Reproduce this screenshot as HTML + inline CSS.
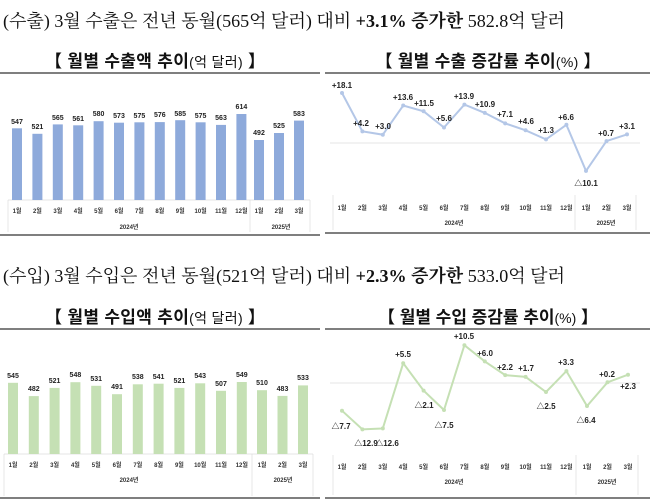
<!DOCTYPE html>
<html><head><meta charset="utf-8"><style>
html,body{margin:0;padding:0;background:#fff;width:650px;height:501px;overflow:hidden}
svg{display:block;font-family:"Liberation Sans","Noto Sans CJK KR",sans-serif}
.t{font-family:"Liberation Serif","Noto Serif CJK SC","Noto Sans CJK KR",serif;font-size:18px;fill:#111}
.st{font-size:17px;font-weight:bold;fill:#111}
.v{font-size:7px;font-weight:bold;fill:#222;text-anchor:middle}
.m{font-size:6px;font-weight:bold;fill:#333;text-anchor:middle}
.p{font-size:8px;font-weight:bold;fill:#222;text-anchor:middle}
</style></head><body>
<svg width="650" height="501" viewBox="0 0 650 501">
<rect width="650" height="501" fill="#fff"/>
<text class="t" x="3" y="27" textLength="562" lengthAdjust="spacingAndGlyphs">(수출) 3월 수출은 전년 동월(565억 달러) 대비 <tspan font-weight="bold">+3.1% 증가한</tspan> 582.8억 달러</text>
<text class="t" x="3" y="282" textLength="562" lengthAdjust="spacingAndGlyphs">(수입) 3월 수입은 전년 동월(521억 달러) 대비 <tspan font-weight="bold">+2.3% 증가한</tspan> 533.0억 달러</text>

<text class="st" x="155" y="67" text-anchor="middle" textLength="220">【 월별 수출액 추이<tspan font-size="14" font-weight="normal">(억 달러)</tspan> 】</text>
<text class="st" x="488" y="67" text-anchor="middle" textLength="225">【 월별 수출  증감률 추이<tspan font-size="14" font-weight="normal">(%)</tspan> 】</text>
<text class="st" x="155" y="323" text-anchor="middle" textLength="220">【 월별 수입액 추이<tspan font-size="14" font-weight="normal">(억 달러)</tspan> 】</text>
<text class="st" x="488" y="323" text-anchor="middle" textLength="220">【 월별 수입 증감률 추이<tspan font-size="14" font-weight="normal">(%)</tspan> 】</text>

<g stroke="#555" stroke-width="1.5">
<line x1="0" y1="73" x2="320" y2="73"/><line x1="325" y1="73" x2="650" y2="73"/>
<line x1="0" y1="235" x2="320" y2="235"/><line x1="325" y1="233" x2="650" y2="233"/>
<line x1="0" y1="329" x2="320" y2="329"/><line x1="325" y1="329" x2="650" y2="329"/>
<line x1="0" y1="498" x2="320" y2="498"/><line x1="325" y1="498" x2="650" y2="498"/>
</g>

<g stroke="#ddd" stroke-width="0.7" fill="none">
<path d="M8 200 V232 M250 200 V232 M310 200 V232 M8 200 H310"/>
<path d="M333 195 V230 M575 195 V230 M636 195 V230"/>
<path d="M4 454 V496 M252 454 V496 M313 454 V496 M4 454 H313"/>
<path d="M333 455 V495 M576 455 V495 M638 455 V495"/>
</g>

<g fill="#8eaadb">
<rect x="12" y="128.3" width="10" height="71.7"/><rect x="32.4" y="133.8" width="10" height="66.2"/>
<rect x="52.8" y="124.4" width="10" height="75.6"/><rect x="73.2" y="125.3" width="10" height="74.7"/>
<rect x="93.6" y="121.2" width="10" height="78.8"/><rect x="114" y="122.7" width="10" height="77.3"/>
<rect x="134.4" y="122.3" width="10" height="77.7"/><rect x="154.8" y="122.1" width="10" height="77.9"/>
<rect x="175.2" y="120.2" width="10" height="79.8"/><rect x="195.6" y="122.3" width="10" height="77.7"/>
<rect x="216" y="124.9" width="10" height="75.1"/><rect x="236.4" y="114" width="10" height="86"/>
<rect x="254" y="140" width="10" height="60"/><rect x="274" y="133" width="10" height="67"/>
<rect x="294" y="120.6" width="10" height="79.4"/>
</g>
<g class="v">
<text x="17" y="124">547</text><text x="37.4" y="129">521</text><text x="57.8" y="120">565</text><text x="78.2" y="121">561</text>
<text x="98.6" y="116">580</text><text x="119" y="118">573</text><text x="139.4" y="118">575</text><text x="159.8" y="117">576</text>
<text x="180.2" y="116">585</text><text x="200.6" y="118">575</text><text x="221" y="120">563</text><text x="241.4" y="109">614</text>
<text x="259" y="135">492</text><text x="279" y="128">525</text><text x="299" y="116">583</text>
</g>
<g class="m">
<text x="17" y="213">1월</text><text x="37.4" y="213">2월</text><text x="57.8" y="213">3월</text><text x="78.2" y="213">4월</text>
<text x="98.6" y="213">5월</text><text x="119" y="213">6월</text><text x="139.4" y="213">7월</text><text x="159.8" y="213">8월</text>
<text x="180.2" y="213">9월</text><text x="200.6" y="213">10월</text><text x="221" y="213">11월</text><text x="241.4" y="213">12월</text>
<text x="259" y="213">1월</text><text x="279" y="213">2월</text><text x="299" y="213">3월</text>
<text x="129" y="229">2024년</text><text x="281" y="229">2025년</text>
</g>

<g fill="#c5e0b4">
<rect x="8" y="382.8" width="10" height="71.2"/><rect x="28.8" y="396.1" width="10" height="57.9"/>
<rect x="49.6" y="387.9" width="10" height="66.1"/><rect x="70.4" y="382.2" width="10" height="71.8"/>
<rect x="91.2" y="385.8" width="10" height="68.2"/><rect x="112" y="394.2" width="10" height="59.8"/>
<rect x="132.8" y="384.3" width="10" height="69.7"/><rect x="153.6" y="383.7" width="10" height="70.3"/>
<rect x="174.4" y="387.9" width="10" height="66.1"/><rect x="195.2" y="383.3" width="10" height="70.7"/>
<rect x="216" y="390.8" width="10" height="63.2"/><rect x="236.8" y="382" width="10" height="72"/>
<rect x="257" y="390.2" width="10" height="63.8"/><rect x="277.5" y="395.9" width="10" height="58.1"/>
<rect x="298" y="385.4" width="10" height="68.6"/>
</g>
<g class="v">
<text x="13" y="378">545</text><text x="33.8" y="391">482</text><text x="54.6" y="383">521</text><text x="75.4" y="377">548</text>
<text x="96.2" y="381">531</text><text x="117" y="389">491</text><text x="137.8" y="379">538</text><text x="158.6" y="379">541</text>
<text x="179.4" y="383">521</text><text x="200.2" y="378">543</text><text x="221" y="386">507</text><text x="241.8" y="377">549</text>
<text x="262" y="385">510</text><text x="282.5" y="391">483</text><text x="303" y="380">533</text>
</g>
<g class="m">
<text x="13" y="467">1월</text><text x="33.8" y="467">2월</text><text x="54.6" y="467">3월</text><text x="75.4" y="467">4월</text>
<text x="96.2" y="467">5월</text><text x="117" y="467">6월</text><text x="137.8" y="467">7월</text><text x="158.6" y="467">8월</text>
<text x="179.4" y="467">9월</text><text x="200.2" y="467">10월</text><text x="221" y="467">11월</text><text x="241.8" y="467">12월</text>
<text x="262" y="467">1월</text><text x="282.5" y="467">2월</text><text x="303" y="467">3월</text>
<text x="129" y="482">2024년</text><text x="283" y="482">2025년</text>
</g>

<line x1="330" y1="143" x2="640" y2="143" stroke="#e6e6e6" stroke-width="1"/>
<polyline fill="none" stroke="#b4c7e7" stroke-width="2" points="342,93 362.4,131.4 382.8,134.7 403.2,105.5 423.6,111.3 444,127.5 464.4,104.6 484.8,112.9 505.2,123.4 525.6,130.3 546,139.4 566.4,124.8 586,170.9 606.5,141.1 627,134.4"/>
<g fill="#b4c7e7">
<circle cx="342" cy="93" r="2"/><circle cx="362.4" cy="131.4" r="2"/><circle cx="382.8" cy="134.7" r="2"/><circle cx="403.2" cy="105.5" r="2"/><circle cx="423.6" cy="111.3" r="2"/><circle cx="444" cy="127.5" r="2"/><circle cx="464.4" cy="104.6" r="2"/><circle cx="484.8" cy="112.9" r="2"/><circle cx="505.2" cy="123.4" r="2"/><circle cx="525.6" cy="130.3" r="2"/><circle cx="546" cy="139.4" r="2"/><circle cx="566.4" cy="124.8" r="2"/><circle cx="586" cy="170.9" r="2"/><circle cx="606.5" cy="141.1" r="2"/><circle cx="627" cy="134.4" r="2"/>
</g>
<g class="p">
<text x="342" y="88">+18.1</text><text x="361" y="126">+4.2</text><text x="383" y="129">+3.0</text><text x="403" y="100">+13.6</text>
<text x="424" y="106">+11.5</text><text x="444" y="121">+5.6</text><text x="464" y="99">+13.9</text><text x="485" y="107">+10.9</text>
<text x="505" y="117">+7.1</text><text x="526" y="124">+4.6</text><text x="546" y="133">+1.3</text><text x="566" y="120">+6.6</text>
<text x="586" y="186">△10.1</text><text x="606" y="136">+0.7</text><text x="627" y="129">+3.1</text>
</g>
<g class="m">
<text x="342" y="210">1월</text><text x="362.4" y="210">2월</text><text x="382.8" y="210">3월</text><text x="403.2" y="210">4월</text>
<text x="423.6" y="210">5월</text><text x="444" y="210">6월</text><text x="464.4" y="210">7월</text><text x="484.8" y="210">8월</text>
<text x="505.2" y="210">9월</text><text x="525.6" y="210">10월</text><text x="546" y="210">11월</text><text x="566.4" y="210">12월</text>
<text x="586" y="210">1월</text><text x="606.5" y="210">2월</text><text x="627" y="210">3월</text>
<text x="454" y="225">2024년</text><text x="606" y="225">2025년</text>
</g>

<line x1="330" y1="383" x2="640" y2="383" stroke="#e6e6e6" stroke-width="1"/>
<polyline fill="none" stroke="#c5e0b4" stroke-width="2" points="342,410.7 362.4,429.4 382.8,428.4 403.2,363.2 423.6,390.6 444,410 464.4,345.2 484.8,361.4 505.2,375.1 525.6,376.9 546,392 566.4,371.1 587,406 607.5,382.3 628,374.7"/>
<g fill="#c5e0b4">
<circle cx="342" cy="410.7" r="2"/><circle cx="362.4" cy="429.4" r="2"/><circle cx="382.8" cy="428.4" r="2"/><circle cx="403.2" cy="363.2" r="2"/><circle cx="423.6" cy="390.6" r="2"/><circle cx="444" cy="410" r="2"/><circle cx="464.4" cy="345.2" r="2"/><circle cx="484.8" cy="361.4" r="2"/><circle cx="505.2" cy="375.1" r="2"/><circle cx="525.6" cy="376.9" r="2"/><circle cx="546" cy="392" r="2"/><circle cx="566.4" cy="371.1" r="2"/><circle cx="587" cy="406" r="2"/><circle cx="607.5" cy="382.3" r="2"/><circle cx="628" cy="374.7" r="2"/>
</g>
<g class="p">
<text x="341" y="429">△7.7</text><text x="366" y="446">△12.9</text><text x="387" y="446">△12.6</text><text x="403" y="357">+5.5</text>
<text x="424" y="408">△2.1</text><text x="444" y="428">△7.5</text><text x="464" y="339">+10.5</text><text x="485" y="356">+6.0</text>
<text x="505" y="370">+2.2</text><text x="526" y="371">+1.7</text><text x="546" y="409">△2.5</text><text x="566" y="365">+3.3</text>
<text x="586" y="423">△6.4</text><text x="607" y="377">+0.2</text><text x="628" y="389">+2.3</text>
</g>
<g class="m">
<text x="342" y="469">1월</text><text x="362.4" y="469">2월</text><text x="382.8" y="469">3월</text><text x="403.2" y="469">4월</text>
<text x="423.6" y="469">5월</text><text x="444" y="469">6월</text><text x="464.4" y="469">7월</text><text x="484.8" y="469">8월</text>
<text x="505.2" y="469">9월</text><text x="525.6" y="469">10월</text><text x="546" y="469">11월</text><text x="566.4" y="469">12월</text>
<text x="587" y="469">1월</text><text x="607.5" y="469">2월</text><text x="628" y="469">3월</text>
<text x="454" y="484">2024년</text><text x="607" y="484">2025년</text>
</g>
</svg>
</body></html>
